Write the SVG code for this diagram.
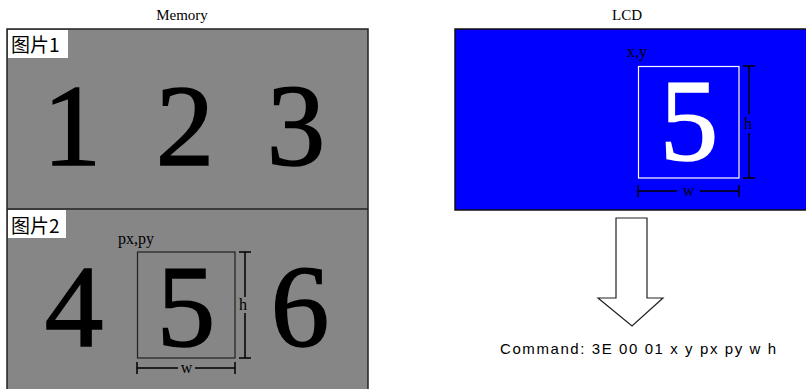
<svg xmlns="http://www.w3.org/2000/svg" width="806" height="389" viewBox="0 0 806 389">
<style>
.title{font-family:"Liberation Serif",serif;font-size:15px;fill:#000;text-anchor:middle}
.big{font-family:"Liberation Serif",serif;font-size:117px;fill:#000;stroke:#000;stroke-width:1.6;text-anchor:middle}
.white{fill:#fff;stroke:#fff}
.lbl{font-family:"Noto Sans CJK SC","Liberation Sans",sans-serif;font-size:19px;fill:#000}
.sm{font-family:"Liberation Serif",serif;font-size:16px;fill:#000}
.dim{stroke:#000;stroke-width:1.5;fill:none}
.cmd{font-family:"Liberation Sans",sans-serif;font-size:15px;fill:#000}
</style>
<rect width="806" height="389" fill="#fff"/>
<g id="memory">
<text class="title" x="182" y="20">Memory</text>
<rect x="7" y="29" width="361" height="365" fill="#868686" stroke="#222" stroke-width="1.5"/>
<line x1="7" y1="209" x2="368" y2="209" stroke="#222" stroke-width="1.5"/>
</g>
<g id="pic1">
<rect x="8" y="30" width="60" height="28" fill="#fff"/>
<text class="lbl" x="11" y="52">图片1</text>
<text class="big" x="72" y="165">1</text>
<text class="big" x="185" y="165">2</text>
<text class="big" x="296" y="165">3</text>
</g>
<g id="pic2">
<rect x="8" y="210" width="58" height="28" fill="#fff"/>
<text class="lbl" x="11" y="233">图片2</text>
<text class="big" x="74" y="346">4</text>
<text class="big" x="186" y="346">5</text>
<text class="big" x="300" y="346">6</text>
<text class="sm" x="118" y="244">px,py</text>
<rect x="137.5" y="252" width="97.5" height="106" fill="none" stroke="#222" stroke-width="1.2"/>
<path class="dim" d="M245 252V297M245 313V358M239 252H251M239 358H251"/>
<text class="sm" x="239" y="310">h</text>
<path class="dim" d="M137 368H178M195 368H235M137 362V374M235 362V374"/>
<text class="sm" x="186.5" y="373" text-anchor="middle">w</text>
</g>
<g id="lcd">
<text class="title" x="627" y="20">LCD</text>
<rect x="455" y="29" width="355" height="181" fill="#0000ff" stroke="#111" stroke-width="1.5"/>
<text class="sm" x="627" y="57">x,y</text>
<rect x="638.5" y="66.5" width="100.5" height="111.5" fill="none" stroke="#fff" stroke-width="1.2"/>
<text class="big white" x="689" y="160">5</text>
<path class="dim" d="M749 66V114M749 133V178M743 66H755M743 178H755"/>
<text class="sm" x="744" y="129">h</text>
<path class="dim" d="M638 191H677M700 191H739M638 185V197M739 185V197"/>
<text class="sm" x="688.5" y="196" text-anchor="middle">w</text>
</g>
<g id="connectors">
<path d="M616 218H647V298H663L632 326L598 298H616Z" fill="#fff" stroke="#222" stroke-width="1.2"/>
</g>
<g id="command">
<text class="cmd" x="500" y="354" textLength="276" lengthAdjust="spacing">Command: 3E 00 01  x  y  px  py  w  h</text>
</g>
</svg>
